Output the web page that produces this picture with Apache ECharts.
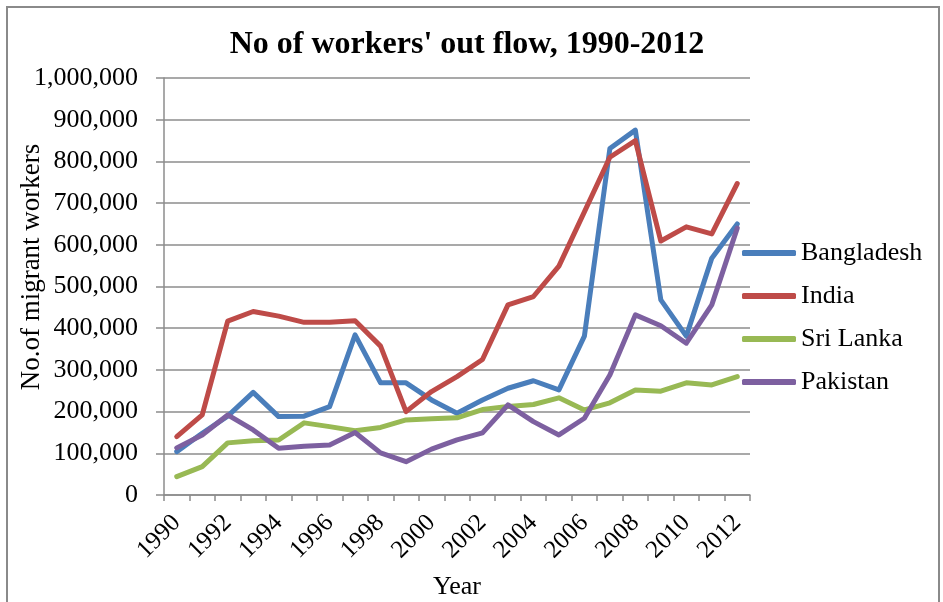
<!DOCTYPE html>
<html>
<head>
<meta charset="utf-8">
<script src="https://cdn.jsdelivr.net/npm/echarts@6/dist/echarts.min.js"></script>
<style>
  html, body { margin: 0; padding: 0; background: #fff; }
  #chart { width: 943px; height: 602px; }
</style>
</head>
<body>
<div id="chart"></div>
<script>
// Yearly outflow of migrant workers by country of origin
const years = ['1990','1991','1992','1993','1994','1995','1996','1997','1998','1999','2000','2001',
               '2002','2003','2004','2005','2006','2007','2008','2009','2010','2011','2012'];

const bangladesh = [104000,148000,189000,246000,188000,189000,212000,384000,269000,269000,228000,196000,
                    228000,256000,274000,252000,381000,831000,875000,468000,381000,568000,650000];
const india      = [140000,192000,417000,440000,429000,414000,414000,418000,357000,200000,248000,284000,
                    325000,456000,476000,549000,679000,810000,850000,609000,643000,626000,747000];
const sriLanka   = [44000,68000,125000,130000,132000,173000,164000,154000,162000,180000,183000,185000,
                    205000,212000,217000,233000,204000,221000,252000,249000,269000,264000,284000];
const pakistan   = [113000,144000,192000,156000,112000,117000,120000,150000,101000,80000,110000,132000,
                    149000,216000,176000,144000,184000,288000,432000,406000,364000,456000,640000];

const seriesNames = ['Bangladesh', 'India', 'Sri Lanka', 'Pakistan'];
const seriesData = [bangladesh, india, sriLanka, pakistan];
const colors = ['#4a7ebb', '#be4b48', '#98b954', '#7d60a0'];

const font = 'Liberation Serif, Times New Roman, serif';
const gridGray = '#8c8c8c';

const chart = echarts.init(document.getElementById('chart'), null, { renderer: 'canvas' });

chart.setOption({
  animation: false,
  backgroundColor: '#fff',
  color: colors,
  title: {
    text: "No of workers' out flow, 1990-2012",
    left: 462,
    top: 24,
    textAlign: 'center',
    textStyle: { fontFamily: font, fontWeight: 'bold', fontSize: 32, color: '#000' }
  },
  graphic: [{
    type: 'rect',
    shape: { x: 7, y: 7, width: 932, height: 610 },
    style: { fill: 'none', stroke: '#8a8a8a', lineWidth: 2 },
    silent: true
  }],
  legend: {
    orient: 'vertical',
    left: 742,
    top: 239,
    padding: 0,
    itemWidth: 54,
    itemHeight: 6,
    itemGap: 15,
    icon: 'roundRect',
    data: seriesNames,
    textStyle: { fontFamily: font, fontSize: 26, color: '#000', lineHeight: 28 }
  },
  grid: { left: 164, right: 193, top: 78, bottom: 107, outerBoundsMode: 'none' },
  xAxis: {
    type: 'category',
    data: years,
    boundaryGap: true,
    name: 'Year',
    nameLocation: 'middle',
    nameGap: 79,
    nameMoveOverlap: false,
    nameTextStyle: { fontFamily: font, fontSize: 26, color: '#000' },
    axisLine: { lineStyle: { color: gridGray, width: 1.5 } },
    axisTick: { show: true, length: 6, interval: 0, lineStyle: { color: gridGray, width: 1.5 } },
    axisLabel: { interval: 1, rotate: 45, margin: 24, fontFamily: font, fontSize: 25, color: '#000' },
    splitLine: { show: false }
  },
  yAxis: {
    type: 'value',
    min: 0,
    max: 1000000,
    interval: 100000,
    name: 'No.of migrant workers',
    nameLocation: 'middle',
    nameGap: 119,
    nameMoveOverlap: false,
    nameTextStyle: { fontFamily: font, fontSize: 27, color: '#000', padding: [0, 0, 0, 39] },
    axisLine: { show: true, lineStyle: { color: gridGray, width: 1.5 } },
    axisTick: { show: true, length: 8, lineStyle: { color: gridGray, width: 1.5 } },
    axisLabel: {
      margin: 26,
      fontFamily: font, fontSize: 26, color: '#000',
      formatter: v => v.toLocaleString('en-US')
    },
    splitLine: { show: true, lineStyle: { color: gridGray, width: 1.5 } }
  },
  series: seriesNames.map((name, i) => ({
    name: name,
    type: 'line',
    data: seriesData[i],
    symbol: 'none',
    lineStyle: { width: 5, color: colors[i], cap: 'round', join: 'round' },
    itemStyle: { color: colors[i] }
  }))
});
</script>
</body>
</html>
